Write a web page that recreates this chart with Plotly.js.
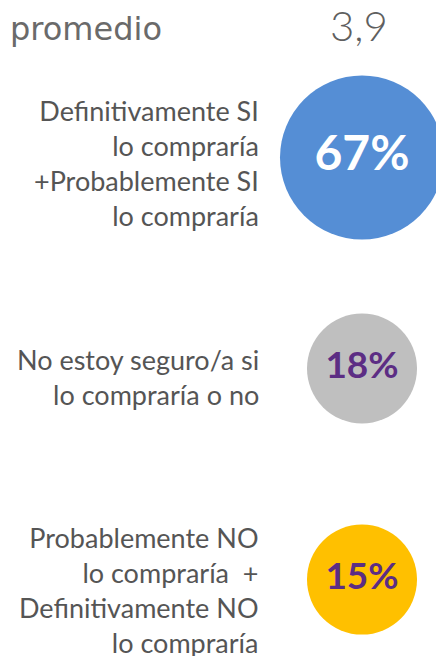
<!DOCTYPE html>
<html>
<head>
<meta charset="utf-8">
<script src="https://cdn.plot.ly/plotly-3.0.1.min.js"></script>
<style>html,body{margin:0;padding:0;background:#fff;overflow:hidden}#chart{width:436px;height:656px}</style>
</head>
<body>
<div id="chart"></div>
<script>
// Data
const categories = [
  "Definitivamente SI<br>lo compraría<br>+Probablemente SI<br>lo compraría",
  "No estoy seguro/a si<br>lo compraría o no",
  "Probablemente NO<br>lo compraría  +<br>Definitivamente NO<br>lo compraría"
];
const values = [67, 18, 15];
const promedioLabel = "promedio";
const promedioValue = 3.9;

// Styles
const circleColors = ["#558ed5", "#bfbfbf", "#ffc000"];
const circleSizes = [164, 110, 110];
const textColors = ["#ffffff", "#5c2d84", "#5c2d84"];
const textSizes = [48, 37, 37];
const labelShift = [-5, -8, -10];

const trace = {
  type: "scatter",
  mode: "markers+text",
  x: categories.map(() => 0),
  y: categories,
  marker: { size: circleSizes, color: circleColors, opacity: 1, line: { width: 0 } },
  opacity: 1,
  text: values.map(v => v + "%"),
  textposition: "middle center",
  textfont: { family: "Lato", size: textSizes, color: textColors, weight: 700 },
  cliponaxis: false,
  hoverinfo: "skip"
};

const annotations = categories.map((c, i) => ({
  xref: "paper", yref: "y",
  x: 0, y: c,
  xanchor: "right", yanchor: "middle",
  xshift: -27, yshift: labelShift[i],
  align: "right",
  text: c,
  showarrow: false,
  font: { family: "Lato", size: 27, color: "#555555" }
}));

annotations.push({
  xref: "paper", yref: "paper", x: -288/148, y: 1,
  xanchor: "left", yanchor: "bottom", xshift: 8, yshift: 2,
  text: promedioLabel, showarrow: false,
  font: { family: "DejaVu Sans", size: 32, color: "#6a6a6a" }
});
annotations.push({
  xref: "paper", yref: "paper", x: 1, y: 1,
  xanchor: "right", yanchor: "bottom", xshift: -46, yshift: 0,
  text: promedioValue.toFixed(1).replace(".", ","), showarrow: false,
  font: { family: "Lato", size: 42, color: "#5f5f5f", weight: 300 }
});

const layout = {
  width: 436, height: 656,
  margin: { l: 288, r: 0, t: 52, b: 0 },
  paper_bgcolor: "#ffffff", plot_bgcolor: "#ffffff",
  showlegend: false,
  xaxis: { range: [-1, 1], visible: false, fixedrange: true },
  yaxis: { type: "category", categoryorder: "array", categoryarray: categories,
           range: [2.362, -0.5], visible: false, fixedrange: true },
  annotations: annotations
};

Plotly.newPlot("chart", [trace], layout, { displayModeBar: false, staticPlot: true });
</script>
</body>
</html>
